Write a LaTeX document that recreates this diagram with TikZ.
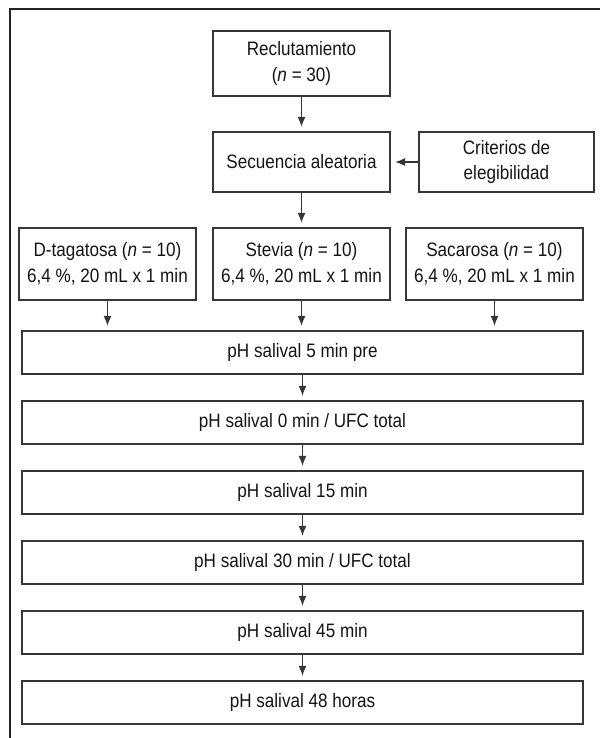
\documentclass[tikz,border=0pt]{standalone}
\usepackage{fontspec}
\setmainfont{Liberation Sans}[FakeStretch=0.88]
\usetikzlibrary{arrows.meta}
\definecolor{boxgray}{HTML}{363636}
\definecolor{textgray}{HTML}{141414}
\definecolor{framegray}{HTML}{222222}
\tikzset{%
	block/.style    = {draw=boxgray, line width=1.4pt, rectangle, inner sep=0pt,
		align=center, text=textgray, font=\fontsize{19.5}{26}\selectfont},
	group/.style    = {block, minimum width=177bp, minimum height=72bp}, % Groups
	stage/.style    = {block, minimum width=561bp, minimum height=43bp}, % pH steps
	link/.style     = {line width=1.1pt, draw=boxgray,
		-{Latex[length=10pt,width=8pt]}, shorten >=4.5pt}, % Arrow
	frame/.style    = {draw=framegray, line width=2.8pt}
}
\begin{document}
\begin{tikzpicture}[x=1bp,y=-1bp]
	\useasboundingbox (0,0) rectangle (600,738);
	\draw[frame] (10,738) -- (10,9) -- (600,9);

	\node[block, minimum width=177bp, minimum height=65bp] (recl) at (301.5,63.5) {Reclutamiento\\(\textit{n} = 30)};
	\node[block, minimum width=177bp, minimum height=60bp] (secu) at (301.5,162) {Secuencia aleatoria};
	\node[block, minimum width=175bp, minimum height=60bp] (crit) at (506.5,162) {Criterios de\\elegibilidad};

	\node[group] (taga) at (107.5,264) {D-tagatosa (\textit{n} = 10)\\6,4 \%, 20 mL x 1 min};
	\node[group] (stev) at (301.5,264) {Stevia (\textit{n} = 10)\\6,4 \%, 20 mL x 1 min};
	\node[group] (saca) at (494.5,264) {Sacarosa (\textit{n} = 10)\\6,4 \%, 20 mL x 1 min};

	\node[stage] (ph5)  at (302.5,352.5) {pH salival 5 min pre};
	\node[stage] (ph0)  at (302.5,422.5) {pH salival 0 min / UFC total};
	\node[stage] (ph15) at (302.5,492.5) {pH salival 15 min};
	\node[stage] (ph30) at (302.5,562.5) {pH salival 30 min / UFC total};
	\node[stage] (ph45) at (302.5,632.5) {pH salival 45 min};
	\node[stage] (ph48) at (302.5,702.5) {pH salival 48 horas};

	\draw[link] (recl) -- (secu);
	\draw[link] (crit) -- (secu);
	\draw[link] (secu) -- (stev);
	\draw[link] (taga.south) -- (taga.south |- ph5.north);
	\draw[link] (stev.south) -- (stev.south |- ph5.north);
	\draw[link] (saca.south) -- (saca.south |- ph5.north);
	\foreach \from/\to in {ph5/ph0, ph0/ph15, ph15/ph30, ph30/ph45, ph45/ph48}
		\draw[link] (\from) -- (\to);
\end{tikzpicture}
\end{document}
